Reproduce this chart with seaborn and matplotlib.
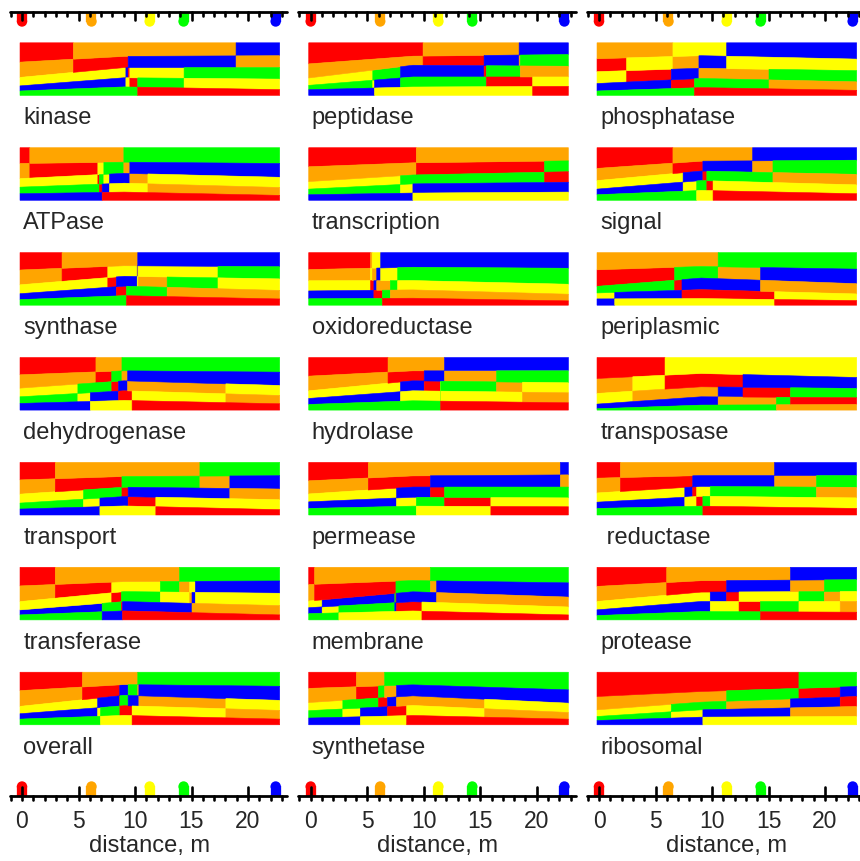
import numpy as np
import matplotlib
matplotlib.use("Agg")
import matplotlib.pyplot as plt
import seaborn as sns

# source colours and where each source sits along the transect (m)
COLORS = {"R": "#ff0000", "O": "#ffa500", "Y": "#ffff00", "G": "#00ff00", "B": "#0000ff"}
SOURCE_KEYS = ["R", "O", "Y", "G", "B"]
SOURCE_X = [0, 6.15, 11.3, 14.3, 22.45]

TICKS = [0, 5, 10, 15, 20]

COLUMNS = [
    ["kinase", "ATPase", "synthase", "dehydrogenase", "transport", "transferase", "overall"],
    ["peptidase", "transcription", "oxidoreductase", "hydrolase", "permease", "membrane", "synthetase"],
    ["phosphatase", "signal", "periplasmic", "transposase", " reductase", "protease", "ribosomal"],
]

# colour at each rank (top -> bottom) at the start of the transect
ORDER = {
    "kinase": "ROYBG", "ATPase": "ROYGB", "synthase": "ROYBG", "dehydrogenase": "ROYGB",
    "transport": "ROYGB", "transferase": "ROYBG", "overall": "ROYBG",
    "peptidase": "ROYGB", "transcription": "ROYGB", "oxidoreductase": "ROYBG", "hydrolase": "ROYBG",
    "permease": "ROYBG", "membrane": "ROYBG", "synthetase": "ROYGB",
    "phosphatase": "ORYBG", "signal": "ROYBG", "periplasmic": "ORGYB", "transposase": "ROYBG",
    " reductase": "ROYBG", "protease": "ROYBG", "ribosomal": "ROYGB",
}

# (distance, rank k) : ranks k and k+1 swap their sources at that distance
SWAPS = {
    "kinase": [(4.5, 1), (9.15, 3), (9.35, 2), (9.5, 3), (10.2, 4), (14.3, 3), (18.9, 1)],
    "ATPase": [(0.65, 1), (6.67, 2), (6.8, 3), (7.05, 4), (7.2, 2), (7.7, 3), (8.97, 1), (9.5, 2), (11.1, 3)],
    "synthase": [(3.5, 1), (7.55, 2), (8.3, 3), (9.2, 4), (10.15, 2), (10.2, 1), (10.25, 2), (12.8, 3), (17.3, 2)],
    "dehydrogenase": [(4.9, 3), (6.0, 4), (6.5, 1), (7.9, 2), (8.5, 3), (8.8, 1), (9.3, 2), (9.7, 4), (18.0, 3)],
    "transport": [(2.9, 1), (5.4, 3), (6.85, 4), (8.8, 2), (9.35, 3), (11.8, 4), (15.7, 1), (18.35, 2)],
    "transferase": [(2.9, 1), (7.05, 4), (7.9, 2), (8.75, 3), (8.85, 4), (12.2, 2), (13.9, 1), (14.8, 2),
                    (15.0, 3), (15.3, 2)],
    "overall": [(5.3, 1), (6.65, 3), (6.9, 4), (8.6, 2), (8.62, 3), (9.35, 2), (9.7, 4), (10.2, 1), (10.3, 2),
                (18.0, 3)],
    "peptidase": [(5.45, 3), (5.6, 4), (7.9, 3), (9.9, 1), (15.3, 2), (15.5, 3), (18.4, 1), (18.5, 2), (19.6, 4)],
    "transcription": [(7.9, 3), (9.0, 4), (9.3, 1), (20.65, 2)],
    "oxidoreductase": [(5.25, 1), (5.25, 2), (5.4, 1), (5.55, 3), (5.8, 2), (6.15, 1), (6.3, 4), (7.0, 3), (7.65, 2)],
    "hydrolase": [(6.8, 1), (7.9, 3), (10.0, 2), (11.44, 3), (11.45, 4), (11.46, 3), (11.8, 1), (16.4, 2), (18.7, 3)],
    "permease": [(5.05, 1), (7.55, 3), (9.3, 4), (10.55, 2), (11.8, 3), (15.9, 4), (22.05, 1)],
    "membrane": [(0.3, 1), (0.97, 3), (2.45, 4), (7.4, 3), (7.5, 2), (7.55, 3), (9.8, 4), (10.55, 1), (11.1, 2)],
    "synthetase": [(2.8, 3), (4.0, 1), (4.35, 4), (5.95, 2), (6.5, 1), (6.75, 3), (7.55, 2), (8.45, 4), (15.35, 3)],
    "phosphatase": [(2.4, 2), (6.35, 3), (6.5, 1), (8.4, 4), (8.8, 2), (11.25, 1), (15.0, 3)],
    "signal": [(6.5, 1), (7.4, 3), (8.6, 4), (9.15, 2), (9.5, 3), (10.05, 4), (13.55, 1), (15.35, 2)],
    "periplasmic": [(1.35, 4), (6.65, 2), (7.3, 3), (10.5, 1), (14.25, 2), (15.5, 4)],
    "transposase": [(2.95, 2), (5.8, 1), (10.5, 3), (12.7, 2), (15.65, 4), (16.9, 3)],
    " reductase": [(1.85, 1), (7.55, 3), (8.25, 2), (8.6, 3), (9.15, 4), (9.8, 3), (15.5, 1), (19.2, 2)],
    "protease": [(5.95, 1), (9.8, 3), (11.25, 2), (12.35, 3), (14.25, 4), (16.9, 1), (17.65, 3), (19.9, 2),
                 (21.3, 3)],
    "ribosomal": [(6.35, 3), (9.15, 4), (11.25, 2), (16.9, 3), (17.65, 1), (21.3, 2)],
}

# band shares per rank (top -> bottom) at the left end, at 9 m and at the right end
KNOTS = [-0.22, 9.0, 22.76]
WIDTH_LEFT = {
    "kinase": [57, 45, 25, 15, 13], "ATPase": [48, 46, 26, 20, 20], "synthase": [53, 45, 27, 18, 17],
    "dehydrogenase": [52, 40, 26, 20, 20], "transport": [53, 43, 27, 18, 18], "transferase": [56, 47, 25, 15, 15],
    "overall": [55, 47, 22, 16, 17], "peptidase": [63, 42, 22, 13, 17], "transcription": [58, 45, 23, 17, 17],
    "oxidoreductase": [50, 33, 30, 23, 19], "hydrolase": [56, 44, 23, 18, 17], "permease": [56, 40, 24, 20, 20],
    "membrane": [52, 50, 20, 18, 19], "synthetase": [48, 42, 24, 22, 20], "phosphatase": [47, 38, 35, 22, 13],
    "signal": [63, 37, 26, 17, 17], "periplasmic": [52, 50, 20, 18, 19], "transposase": [63, 45, 32, 14, 4],
    " reductase": [48, 45, 28, 19, 20], "protease": [57, 45, 25, 17, 13], "ribosomal": [73, 40, 20, 12, 13],
}
WIDTH_MID = {
    "kinase": [40, 33, 30, 27, 25], "ATPase": [44, 34, 30, 27, 25], "synthase": [40, 32, 30, 29, 29],
    "dehydrogenase": [40, 30, 30, 29, 29], "transport": [42, 32, 28, 28, 27], "transferase": [43, 30, 30, 28, 27],
    "overall": [37, 32, 31, 29, 28], "peptidase": [40, 27, 35, 30, 25], "transcription": [46, 37, 27, 28, 22],
    "oxidoreductase": [44, 40, 28, 25, 21], "hydrolase": [40, 30, 30, 30, 28], "permease": [41, 34, 31, 27, 27],
    "membrane": [40, 34, 30, 28, 27], "synthetase": [38, 33, 29, 30, 28], "phosphatase": [38, 37, 30, 27, 23],
    "signal": [41, 30, 29, 30, 30], "periplasmic": [42, 35, 35, 27, 20], "transposase": [48, 40, 30, 25, 15],
    " reductase": [40, 33, 30, 30, 27], "protease": [40, 34, 28, 30, 25], "ribosomal": [58, 32, 23, 22, 23],
}
WIDTH_RIGHT = {
    "kinase": [38, 35, 34, 31, 17], "ATPase": [48, 42, 31, 24, 15], "synthase": [43, 37, 35, 26, 19],
    "dehydrogenase": [44, 40, 30, 25, 19], "transport": [40, 40, 32, 30, 16], "transferase": [41, 37, 37, 28, 15],
    "overall": [42, 42, 30, 26, 17], "peptidase": [35, 35, 32, 28, 27], "transcription": [40, 33, 32, 30, 25],
    "oxidoreductase": [47, 48, 30, 20, 13], "hydrolase": [40, 36, 30, 30, 22], "permease": [38, 37, 33, 27, 25],
    "membrane": [47, 43, 30, 24, 15], "synthetase": [53, 40, 28, 20, 17], "phosphatase": [48, 34, 33, 25, 15],
    "signal": [38, 43, 32, 27, 20], "periplasmic": [50, 44, 31, 20, 14], "transposase": [60, 33, 28, 20, 17],
    " reductase": [40, 36, 32, 32, 20], "protease": [37, 35, 30, 32, 23], "ribosomal": [43, 30, 30, 30, 25],
}

# layout, in figure pixels
FIG_W, FIG_H = 860, 862
PX_PER_M = 11.3
ZERO_PX = [22, 310.7, 599]
ROW_TOP, ROW_STEP, ROW_H = 43.3, 104.9, 52.6
TOP_RULER_Y, BOTTOM_RULER_Y = 12.5, 797.5


def draw_panel(ax, name, top):
    w = np.array([WIDTH_LEFT[name], WIDTH_MID[name], WIDTH_RIGHT[name]], float)
    w = w / w.sum(axis=1, keepdims=True)
    edges = top + ROW_H * np.hstack([np.zeros((3, 1)), np.cumsum(w, axis=1)])

    order = list(ORDER[name])
    start = [KNOTS[0]] * 5
    segs = []
    for x, k in SWAPS[name]:
        for j in (k - 1, k):
            segs.append((j, start[j], x, order[j]))
            start[j] = x
        order[k - 1], order[k] = order[k], order[k - 1]
    for j in range(5):
        segs.append((j, start[j], KNOTS[-1], order[j]))

    for j, a, b, key in segs:
        if b <= a:
            continue
        xs = [a] + [kx for kx in KNOTS if a < kx < b] + [b]
        y1 = np.interp(xs, KNOTS, edges[:, j])
        y2 = np.interp(xs, KNOTS, edges[:, j + 1])
        ax.fill_between(xs, y1, y2, color=COLORS[key], linewidth=0.4, zorder=1)


def draw_ruler(ax, y, top):
    ax.plot([-1.1, 23.45], [y, y], color="black", lw=2.0, solid_capstyle="round", zorder=3)
    minor = [t for t in range(-1, 24) if t % 5]
    if top:
        ax.vlines(minor, y, y + 4.5, color="black", lw=1.9, capstyle="round", zorder=3)
        ax.vlines(TICKS, y, y + 8.5, color="black", lw=1.9, capstyle="round", zorder=3)
        y_end = y + 10
    else:
        ax.vlines(minor, y, y + 3.5, color="black", lw=1.9, capstyle="round", zorder=3)
        ax.vlines(TICKS, y - 9, y + 3.5, color="black", lw=1.9, capstyle="round", zorder=3)
        y_end = y - 10
    # source markers: a bar with a rounded end
    ax.vlines(SOURCE_X, y, y_end, colors=[COLORS[k] for k in SOURCE_KEYS], linewidths=7.4,
              capstyle="butt", zorder=2)
    sns.scatterplot(x=SOURCE_X, y=[y_end] * 5, hue=SOURCE_KEYS, palette=COLORS, s=56,
                    linewidth=0, legend=False, ax=ax, zorder=2)


sns.set_style("white")
plt.rcParams["font.family"] = ["Liberation Sans", "DejaVu Sans"]

fig = plt.figure(figsize=(FIG_W / 100, FIG_H / 100), dpi=100)
fig.patch.set_facecolor("white")

for c, names in enumerate(COLUMNS):
    z = ZERO_PX[c]
    left_px = z - 17
    right_px = min(z + 272, FIG_W)
    ax = fig.add_axes([left_px / FIG_W, 0, (right_px - left_px) / FIG_W, 1])
    ax.set_xlim((left_px - z) / PX_PER_M, (right_px - z) / PX_PER_M)
    ax.set_ylim(FIG_H, 0)
    ax.axis("off")

    for r, name in enumerate(names):
        top = ROW_TOP + r * ROW_STEP
        draw_panel(ax, name, top)
        ax.text(0.1, top + ROW_H + 28.5, name, fontsize=17, ha="left", va="baseline")

    draw_ruler(ax, TOP_RULER_Y, top=True)
    draw_ruler(ax, BOTTOM_RULER_Y, top=False)
    for t in TICKS:
        ax.text(t, 822, str(t), fontsize=16.5, ha="center", va="center")
    ax.text(11.25, 846, "distance, m", fontsize=17, ha="center", va="center")

fig.savefig("out.png", dpi=100)
